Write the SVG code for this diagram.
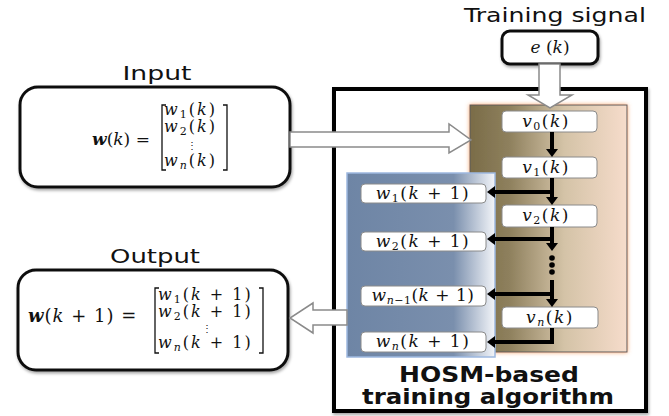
<svg xmlns="http://www.w3.org/2000/svg" width="669" height="416" viewBox="0 0 669 416">
<style>
.lbl{font-family:"DejaVu Sans","Liberation Sans",sans-serif;font-size:20px;fill:#111}
.ttl{font-family:"DejaVu Sans","Liberation Sans",sans-serif;font-size:21px;font-weight:bold;fill:#111}
.m{font-family:"DejaVu Serif","Liberation Serif",serif;fill:#111}
.e{font-size:17px;letter-spacing:1.5px}
.x{font-size:16px;letter-spacing:2px}
.it{font-style:italic}
.ib{fill:#fff;stroke:#8a8a8a;stroke-width:1}
.rb{fill:#fff;stroke:#111;stroke-width:3}
.big{fill:#fff;stroke:#8a8a8a;stroke-width:1.5}
.ln{stroke:#000;stroke-width:4;fill:none}
.ah{fill:#000}
.br{stroke:#111;stroke-width:1.3;fill:none}
.vd{font-family:"DejaVu Serif",serif;font-size:10px;fill:#111}
</style>
<defs>
<linearGradient id="og" x1="0" y1="0" x2="1" y2="0">
<stop offset="0" stop-color="#7a6c48"/>
<stop offset="0.25" stop-color="#8e805d"/>
<stop offset="0.6" stop-color="#d4c3a7"/>
<stop offset="1" stop-color="#f6dccb"/>
</linearGradient>
<linearGradient id="bg" x1="0" y1="0" x2="1" y2="0">
<stop offset="0" stop-color="#6e85a5"/>
<stop offset="0.72" stop-color="#7a8fad"/>
<stop offset="1" stop-color="#f3f5f9"/>
</linearGradient>
<filter id="sh" x="-10%" y="-10%" width="120%" height="130%">
<feDropShadow dx="1" dy="2" stdDeviation="1.5" flood-color="#000" flood-opacity="0.35"/>
</filter>
<filter id="glow" x="-10%" y="-10%" width="120%" height="120%">
<feDropShadow dx="0" dy="0" stdDeviation="2" flood-color="#f79a5a" flood-opacity="0.9"/>
</filter>
</defs>

<!-- main HOSM box -->
<g id="hosm">
<rect x="334" y="89" width="312" height="322" fill="#fff" stroke="#000" stroke-width="4" filter="url(#sh)"/>
<rect x="470" y="105" width="157" height="247" fill="url(#og)" stroke="#5a5a5a" stroke-width="1" filter="url(#glow)"/>
<rect x="347" y="173" width="148" height="184" fill="url(#bg)" stroke="#9db8e0" stroke-width="1.5"/>
<text class="ttl" x="489" y="382" text-anchor="middle" textLength="180" lengthAdjust="spacingAndGlyphs">HOSM-based</text>
<text class="ttl" x="488" y="404" text-anchor="middle" textLength="252" lengthAdjust="spacingAndGlyphs">training algorithm</text>
</g>

<!-- labels -->
<g id="labels">
<text class="lbl" x="555" y="22" text-anchor="middle" textLength="182" lengthAdjust="spacingAndGlyphs">Training signal</text>
<text class="lbl" x="157" y="80" text-anchor="middle" textLength="69" lengthAdjust="spacingAndGlyphs">Input</text>
<text class="lbl" x="155" y="263" text-anchor="middle" textLength="90" lengthAdjust="spacingAndGlyphs">Output</text>
</g>

<!-- training signal -->
<g id="ek">
<rect class="rb" x="502" y="31" width="96" height="33" rx="8" filter="url(#sh)"/>
<text class="m" x="550" y="53" font-size="17" text-anchor="middle"><tspan class="it">e</tspan> (<tspan class="it">k</tspan>)</text>
</g>

<!-- input -->
<g id="input">
<rect class="rb" x="20" y="87" width="270" height="100" rx="18" filter="url(#sh)"/>
<text class="m" x="92" y="145" font-size="17"><tspan class="it" font-weight="bold">w</tspan>(<tspan class="it">k</tspan>) =</text>
<path class="br" d="M166 105 H162 V170 H166 M223 105 H227 V170 H223"/>
<text class="m x"><tspan x="164" y="115" class="it">w</tspan><tspan font-size="11" dy="3">1</tspan><tspan dy="-3">(</tspan><tspan class="it">k</tspan>)</text>
<text class="m x"><tspan x="164" y="132" class="it">w</tspan><tspan font-size="11" dy="3">2</tspan><tspan dy="-3">(</tspan><tspan class="it">k</tspan>)</text>
<text class="vd" x="187" y="149">⋮</text>
<text class="m x"><tspan x="164" y="166" class="it">w</tspan><tspan font-size="11" dy="3" class="it">n</tspan><tspan dy="-3">(</tspan><tspan class="it">k</tspan>)</text>
</g>

<!-- output -->
<g id="output">
<rect class="rb" x="18" y="270" width="270" height="100" rx="18" filter="url(#sh)"/>
<text class="m" x="28" y="322" font-size="18" letter-spacing="1"><tspan class="it" font-weight="bold">w</tspan>(<tspan class="it">k</tspan> + 1) =</text>
<path class="br" d="M159 288 H155 V353 H159 M259 288 H263 V353 H259"/>
<text class="m x"><tspan x="158" y="300" class="it">w</tspan><tspan font-size="11" dy="3">1</tspan><tspan dy="-3">(</tspan><tspan class="it">k</tspan> + 1)</text>
<text class="m x"><tspan x="158" y="317" class="it">w</tspan><tspan font-size="11" dy="3">2</tspan><tspan dy="-3">(</tspan><tspan class="it">k</tspan> + 1)</text>
<text class="vd" x="202" y="332">⋮</text>
<text class="m x"><tspan x="158" y="348" class="it">w</tspan><tspan font-size="11" dy="3" class="it">n</tspan><tspan dy="-3">(</tspan><tspan class="it">k</tspan> + 1)</text>
</g>

<!-- v nodes -->
<g id="v0"><rect class="ib" x="502" y="111" width="95" height="21" rx="4"/>
<text class="m e" x="546" y="127" text-anchor="middle"><tspan class="it">v</tspan><tspan font-size="11" dy="3">0</tspan><tspan dy="-3">(</tspan><tspan class="it">k</tspan>)</text></g>
<g id="v1"><rect class="ib" x="502" y="157" width="95" height="21" rx="4"/>
<text class="m e" x="546" y="173" text-anchor="middle"><tspan class="it">v</tspan><tspan font-size="11" dy="3">1</tspan><tspan dy="-3">(</tspan><tspan class="it">k</tspan>)</text></g>
<g id="v2"><rect class="ib" x="502" y="205" width="95" height="22" rx="4"/>
<text class="m e" x="546" y="221" text-anchor="middle"><tspan class="it">v</tspan><tspan font-size="11" dy="3">2</tspan><tspan dy="-3">(</tspan><tspan class="it">k</tspan>)</text></g>
<g id="vn"><rect class="ib" x="502" y="307" width="96" height="21" rx="4"/>
<text class="m e" x="550" y="323" text-anchor="middle"><tspan class="it">v</tspan><tspan font-size="11" dy="3" class="it">n</tspan><tspan dy="-3">(</tspan><tspan class="it">k</tspan>)</text></g>

<!-- w nodes -->
<g id="w1"><rect class="ib" x="361" y="184" width="125" height="19" rx="4"/>
<text class="m e" x="423" y="199" text-anchor="middle"><tspan class="it">w</tspan><tspan font-size="11" dy="3">1</tspan><tspan dy="-3">(</tspan><tspan class="it">k</tspan> + 1)</text></g>
<g id="w2"><rect class="ib" x="361" y="232" width="125" height="19" rx="4"/>
<text class="m e" x="423" y="247" text-anchor="middle"><tspan class="it">w</tspan><tspan font-size="11" dy="3">2</tspan><tspan dy="-3">(</tspan><tspan class="it">k</tspan> + 1)</text></g>
<g id="wn1"><rect class="ib" x="361" y="286" width="125" height="20" rx="4"/>
<text class="m" x="423" y="301" font-size="17" letter-spacing="0.5" text-anchor="middle"><tspan class="it">w</tspan><tspan font-size="11" dy="3" class="it">n</tspan><tspan font-size="11">−1</tspan><tspan dy="-3">(</tspan><tspan class="it">k</tspan> + 1)</text></g>
<g id="wn"><rect class="ib" x="361" y="332" width="125" height="20" rx="4"/>
<text class="m e" x="423" y="347" text-anchor="middle"><tspan class="it">w</tspan><tspan font-size="11" dy="3" class="it">n</tspan><tspan dy="-3">(</tspan><tspan class="it">k</tspan> + 1)</text></g>

<!-- connectors -->
<g id="connectors">
<path class="big" d="M539 64 V95 H528 L550 108 L572 95 H560 V64 Z"/>
<path class="big" d="M290 132 H449 V124 L471 140 L449 153 V147 H290 Z"/>
<path class="big" d="M347 310 H313 V303 L290 318 L313 333 V325 H347 Z"/>
<path class="ln" d="M552 132 V150"/>
<polygon class="ah" points="546,149 558,149 552,157"/>
<path class="ln" d="M552 178 V198 M552 192 H494"/>
<polygon class="ah" points="546,197 558,197 552,205"/>
<polygon class="ah" points="495,186 495,198 487,192"/>
<path class="ln" d="M552 227 V244 M552 239 H494"/>
<polygon class="ah" points="546,243 558,243 552,251"/>
<polygon class="ah" points="495,233 495,245 487,239"/>
<circle class="ah" cx="552" cy="258" r="2.8"/>
<circle class="ah" cx="552" cy="265" r="2.8"/>
<circle class="ah" cx="552" cy="272" r="2.8"/>
<path class="ln" d="M552 280 V300 M552 294 H494"/>
<polygon class="ah" points="546,299 558,299 552,307"/>
<polygon class="ah" points="495,288 495,300 487,294"/>
<path class="ln" d="M552 328 V342 H494"/>
<polygon class="ah" points="495,336 495,348 487,342"/>
</g>
</svg>
